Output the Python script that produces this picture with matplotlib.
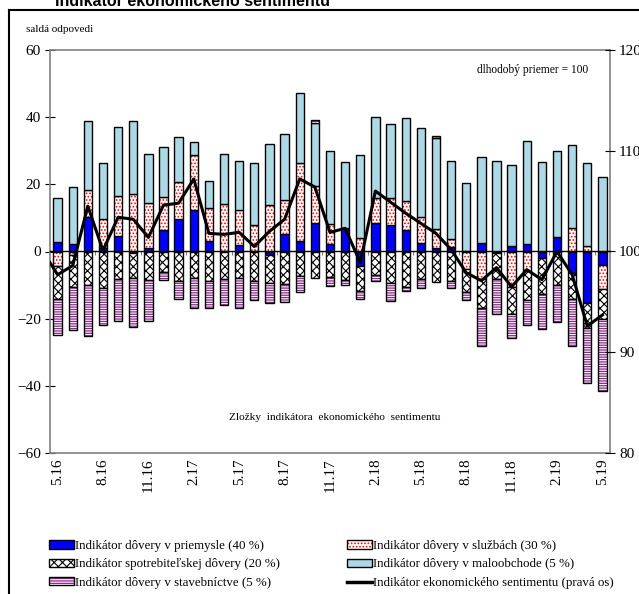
import numpy as np
import matplotlib.pyplot as plt
from matplotlib.patches import Patch
from matplotlib.lines import Line2D

plt.rcParams['font.family'] = ['Liberation Serif', 'DejaVu Serif']
plt.rcParams['hatch.linewidth'] = 0.8

# months 5.16 .. 5.19, every third one is labelled
tick_labels = ['5.16', '8.16', '11.16', '2.17', '5.17', '8.17', '11.17',
               '2.18', '5.18', '8.18', '11.18', '2.19', '5.19']

industry = [2.8, 2.1, 10.4, 1.1, 4.6, -0.3, 1.1, 6.3, 9.6, 12.3, 3.2, 0.1, 1.8,
            0.1, -1.0, 5.1, 3.2, 8.6, 2.2, 7.1, -4.2, 8.6, 7.8, 6.3, 2.4, 1.1,
            1.3, 0.1, 2.4, -0.5, 1.6, 2.3, -2.0, 4.4, -6.3, -15.2, -4.1]
services = [-4.2, -1.0, 7.9, 8.5, 11.9, 17.0, 13.4, 10.0, 11.1, 16.3, 9.9, 14.0,
            10.5, 7.7, 13.9, 10.2, 23.1, 10.9, 5.9, 0.0, 4.1, 7.4, 8.2, 8.7, 7.8,
            5.5, 2.3, -5.3, -8.3, 0.0, -10.7, -5.8, 0.0, 0.0, 6.9, 1.6, -7.1]
consumer = [-10.0, -9.5, -10.0, -11.0, -8.3, -7.6, -8.6, -6.1, -8.8, -8.0, -8.8,
            -8.3, -8.0, -8.8, -8.3, -9.8, -7.3, -7.8, -7.7, -8.4, -7.6, -7.1,
            -9.3, -10.7, -8.1, -9.1, -8.8, -6.9, -8.4, -7.8, -8.0, -8.6, -10.7,
            -10.0, -7.9, -7.5, -8.8]
retail = [13.0, 17.0, 20.7, 16.8, 20.5, 22.0, 14.4, 14.8, 13.5, 4.1, 7.9, 14.8,
          14.6, 18.6, 18.1, 19.8, 21.0, 18.7, 21.9, 19.6, 24.6, 24.0, 22.1, 24.8,
          26.5, 27.1, 23.3, 20.2, 25.6, 27.0, 24.2, 30.7, 26.7, 25.6, 24.9, 24.9,
          22.2]
construction = [-10.8, -12.9, -15.2, -11.0, -12.4, -14.6, -12.1, -2.4, -5.4, -8.7,
                -8.1, -7.6, -8.7, -5.7, -5.9, -5.2, -4.7, 1.0, -2.7, -1.6, -2.4,
                -1.7, -5.4, -1.0, -2.9, 0.7, -2.2, -2.3, -11.5, -10.4, -7.0, -7.6,
                -10.3, -11.0, -14.0, -16.6, -21.6]
esi = [97.7, 98.6, 104.5, 100.1, 103.4, 103.2, 101.4, 104.6, 104.8, 107.2, 101.8,
       101.7, 101.9, 100.5, 102.0, 103.2, 107.2, 106.4, 101.9, 102.3, 98.9, 106.0,
       104.9, 103.8, 102.8, 101.8, 100.2, 97.9, 97.1, 98.4, 96.5, 98.2, 97.2,
       100.0, 97.7, 92.6, 93.7]
esi_start = 98.9  # line begins at the left edge of the plot area

labels = ['Indikátor dôvery v priemysle (40 %)',
          'Indikátor dôvery v službách (30 %)',
          'Indikátor spotrebiteľskej dôvery (20 %)',
          'Indikátor dôvery v maloobchode (5 %)',
          'Indikátor dôvery v stavebníctve (5 %)',
          'Indikátor ekonomického sentimentu (pravá os)']

# (face, hatch, hatch colour)
styles = [('#0000FF', None, 'black'),
          ('white', '.....', 'red'),
          ('white', 'xxxx', 'black'),
          ('#ADD8E6', None, 'black'),
          ('#8B2A8B', '-------', 'white')]

fig = plt.figure(figsize=(6.39, 5.94), dpi=100)
ax = fig.add_axes([50/639, 1-453/594, 560/639, 403/594])

n = len(industry)
x = np.arange(n)
w = 0.55
pos_base = np.zeros(n)
neg_base = np.zeros(n)
for vals, (face, hatch, hcol) in zip([industry, services, consumer, retail, construction], styles):
    v = np.array(vals)
    bottom = np.where(v >= 0, pos_base, neg_base)
    ax.bar(x, v, w, bottom=bottom, color=face, edgecolor=hcol, hatch=hatch, linewidth=0, zorder=2)
    ax.bar(x, v, w, bottom=bottom, fill=False, edgecolor='black', linewidth=1.0, zorder=2)
    pos_base += np.clip(v, 0, None)
    neg_base += np.clip(v, None, 0)

ax.set_xlim(-0.5, n - 0.5)
ax.set_ylim(-60, 60)
ax.set_yticks(np.arange(-60, 61, 20))
ax.set_xticks(x[::3])
ax.set_xticklabels(tick_labels, rotation=90, fontsize=11)
ax.tick_params(axis='x', length=0, pad=4)
ax.tick_params(axis='y', direction='inout', length=7, labelsize=11, pad=3)
for s in ax.spines.values():
    s.set_color('#808080')
    s.set_linewidth(1.2)

# zero line with small tick marks between the quarters
zero_ax = ax.secondary_xaxis(0.5)
zero_ax.set_xticks(np.arange(2.5, n, 3))
zero_ax.tick_params(direction='in', length=3, labeltop=False, labelbottom=False, color='#808080')
for s in zero_ax.spines.values():
    s.set_color('black')
    s.set_linewidth(1.0)
zero_ax.set_zorder(3)

ax2 = ax.twinx()
ax2.plot(np.concatenate([[-0.5], x]), [esi_start] + esi, color='black', lw=2.2, zorder=4)
ax2.set_ylim(80, 120)
ax2.set_yticks(np.arange(80, 121, 10))
ax2.tick_params(axis='y', direction='inout', length=7, labelsize=11, pad=3)
for s in ax2.spines.values():
    s.set_visible(False)

ax.text(0.7625, 0.95, 'dlhodobý priemer = 100', transform=ax.transAxes, fontsize=8.3, va='center')
ax.text(0.509, 0.087, 'Zložky  indikátora  ekonomického  sentimentu', transform=ax.transAxes,
        fontsize=8.1, ha='center', va='center')
fig.text(26/639, 1-30/594, 'saldá odpovedi', fontsize=8, va='center')

# clipped heading and frame of the original page
fig.text(55/639, 1-6/594, 'Indikátor ekonomického sentimentu', fontsize=11.5,
         fontweight='bold', family='Liberation Sans', va='baseline')
fig.add_artist(Line2D([9/639, 9/639], [0, 1-10/594], color='black', lw=1.5))
fig.add_artist(Line2D([9/639, 1], [1-10/594, 1-10/594], color='black', lw=1.5))

handles = []
for face, hatch, hcol in styles:
    handles.append((Patch(facecolor=face, edgecolor=hcol, hatch=hatch, linewidth=0),
                    Patch(fill=False, edgecolor='black', linewidth=1.0)))
handles.append(Line2D([], [], color='black', lw=2.5))
order = [0, 2, 4, 1, 3, 5]
fig.legend([handles[i] for i in order], [labels[i] for i in order], ncol=2,
           loc='upper left', bbox_to_anchor=(49/639, 1-540/594), frameon=False,
           fontsize=9.3, handlelength=1.9, handleheight=0.6, handletextpad=0.1,
           columnspacing=5.2, labelspacing=0.5, borderpad=0, borderaxespad=0)

fig.savefig('out.png', dpi=100)
